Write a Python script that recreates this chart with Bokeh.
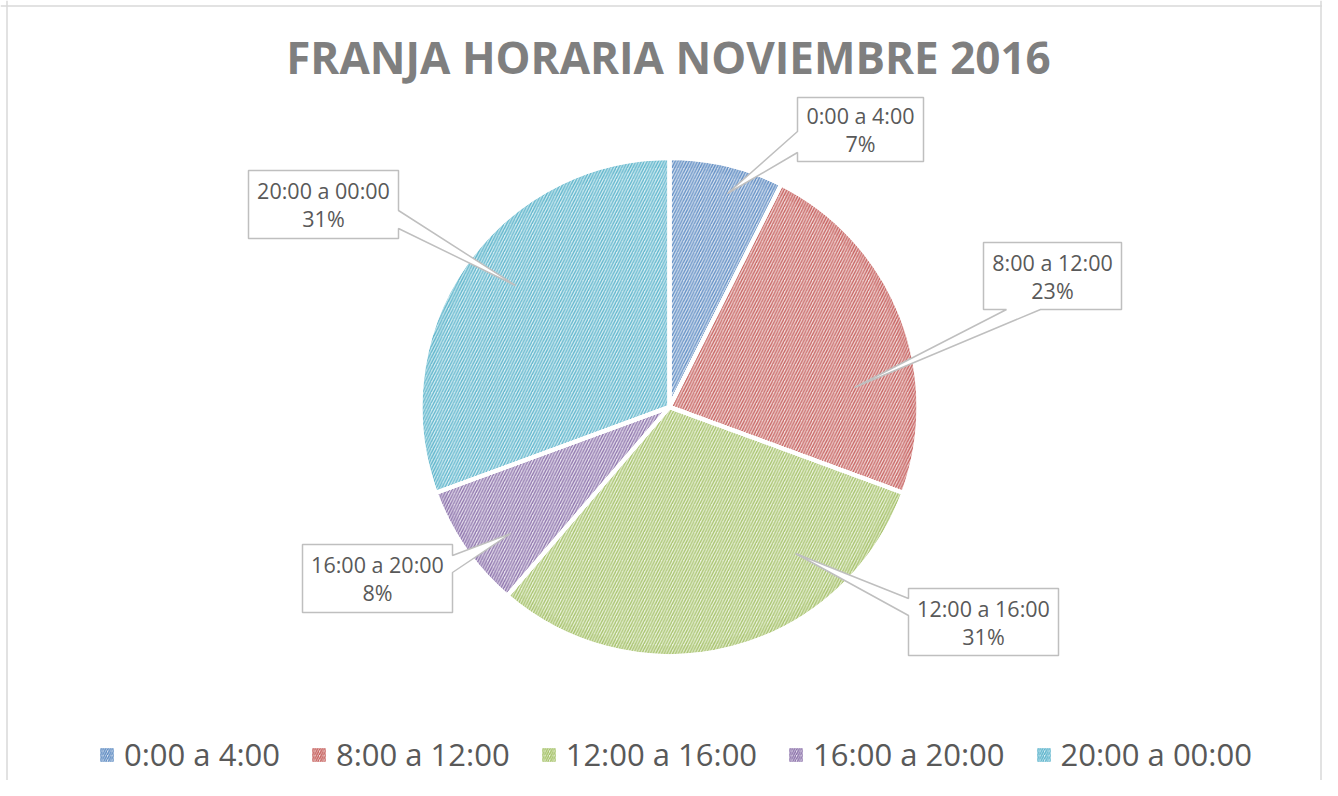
import math
from bokeh.plotting import figure
from bokeh.models import ColumnDataSource, Range1d, Legend, LegendItem, Span
from bokeh.core.properties import value
from bokeh.embed import file_html
from bokeh.resources import INLINE

# ---------------- data ----------------
categories = ["0:00 a 4:00", "8:00 a 12:00", "12:00 a 16:00", "16:00 a 20:00", "20:00 a 00:00"]
shares = [7.4, 23.2, 30.7, 8.1, 30.6]
title_text = "FRANJA HORARIA NOVIEMBRE 2016"

# ---------------- styles ----------------
base_colors = ["#4F81BD", "#C0504D", "#9BBB59", "#8064A2", "#4BACC6"]
tint_colors = ["#dde6f2", "#f3dedd", "#edf3e0", "#e8e2ee", "#dcf0f5"]

W, H = 1322, 780
PAGE_H = 796
def Y(py):  # reference pixel row -> data y
    return PAGE_H - py

CX, CY, R = 669, Y(406.5), 249

total = sum(shares)
starts, ends, cum = [], [], 0.0
for v in shares:
    starts.append(math.radians(90 - cum / total * 360))
    cum += v
    ends.append(math.radians(90 - cum / total * 360))
pct_labels = [f"{round(v / total * 100)}%" for v in shares]

p = figure(width=W, height=H, output_backend="svg", toolbar_location=None,
           x_range=Range1d(0, W), y_range=Range1d(PAGE_H - H, PAGE_H),
           min_border=0, outline_line_color=None, background_fill_color="white",
           border_fill_color="white")
p.axis.visible = False
p.grid.visible = False

nan = float("nan")
src = ColumnDataSource(dict(cat=categories, start=starts, end=ends,
                            base=base_colors, tint=tint_colors,
                            nx=[nan] * len(categories)))
p.wedge(x=CX, y=CY, radius=R, start_angle="start", end_angle="end",
        direction="clock", source=src,
        fill_color="tint", line_color="white", line_width=4,
        hatch_pattern="/", hatch_color="base", hatch_scale=5.6,
        hatch_weight=1.4, hatch_alpha=0.85)

# soft darker rim
p.annular_wedge(x=CX, y=CY, inner_radius=R - 10, outer_radius=R, start_angle="start",
                end_angle="end", direction="clock", source=src,
                fill_color="base", fill_alpha=0.10, line_color=None)
p.wedge(x=CX, y=CY, radius=R, start_angle="start", end_angle="end",
        direction="clock", source=src,
        fill_alpha=0, line_color="white", line_width=4)

# legend swatches (same styling, no white border; not drawn in the plot area)
sw = p.quad(left="nx", right="nx", top="nx", bottom="nx", source=src,
            fill_color="tint", line_color=None, hatch_pattern="/",
            hatch_color="base", hatch_scale=4.5, hatch_weight=1.4, hatch_alpha=0.9)

# ---------------- callouts (layout in reference pixels) ----------------
callouts = [
    dict(box=(797, 97, 923, 161), side="left", att=(131, 152), tip=(727, 193)),
    dict(box=(983, 242, 1121, 309), side="bottom", att=(1006, 1040), tip=(854, 387)),
    dict(box=(908, 588, 1058, 655), side="left", att=(598, 615), tip=(795, 553)),
    dict(box=(302, 544, 452, 612), side="right", att=(555, 572), tip=(510, 533)),
    dict(box=(248, 170, 398, 238), side="right", att=(210, 228), tip=(515, 285)),
]
xs, ys, tx, ty1, ty2 = [], [], [], [], []
for c in callouts:
    x0, y0, x1, y1 = c["box"]
    a, b = c["att"]
    t = c["tip"]
    if c["side"] == "left":
        pts = [(x0, y0), (x1, y0), (x1, y1), (x0, y1), (x0, b), t, (x0, a)]
    elif c["side"] == "right":
        pts = [(x0, y0), (x1, y0), (x1, a), t, (x1, b), (x1, y1), (x0, y1)]
    else:  # bottom
        pts = [(x0, y0), (x1, y0), (x1, y1), (b, y1), t, (a, y1), (x0, y1)]
    xs.append([q[0] for q in pts])
    ys.append([Y(q[1]) for q in pts])
    cx = (x0 + x1) / 2
    cy = (y0 + y1) / 2
    tx.append(cx)
    ty1.append(Y(cy - 14))
    ty2.append(Y(cy + 14))

p.patches(xs, ys, fill_color="white", line_color="#bfbfbf", line_width=1.5)
p.text(x=tx, y=ty1, text=categories, text_font=value("Open Sans"), text_font_size="21.5px",
       text_color="#595959", text_align="center", text_baseline="middle")
p.text(x=tx, y=ty2, text=pct_labels, text_font=value("Open Sans"), text_font_size="21.5px",
       text_color="#595959", text_align="center", text_baseline="middle")

# ---------------- title ----------------
p.text(x=[668], y=[Y(56)], text=[title_text], text_font=value("Open Sans"),
       text_font_size="44px", text_font_style="bold", text_color="#7f7f7f",
       text_align="center", text_baseline="middle")

# ---------------- legend ----------------
items = [LegendItem(label=c, renderers=[sw], index=i) for i, c in enumerate(categories)]
legend = Legend(items=items, orientation="horizontal", location=(98, 5),
                label_text_font="Open Sans", label_text_font_size="31px",
                label_text_color="#595959", glyph_width=17, glyph_height=17,
                label_standoff=9, spacing=30, padding=0, margin=0,
                border_line_color=None, background_fill_alpha=0)
p.add_layout(legend, "center")

# chart border
p.add_layout(Span(location=6.5, dimension="height", line_color="#d9d9d9", line_width=1.5))
p.add_layout(Span(location=W - 1.5, dimension="height", line_color="#d9d9d9", line_width=1.5))
p.add_layout(Span(location=Y(5.5), dimension="width", line_color="#d9d9d9", line_width=1.5))

open("out.html", "w").write(file_html(p, INLINE))
